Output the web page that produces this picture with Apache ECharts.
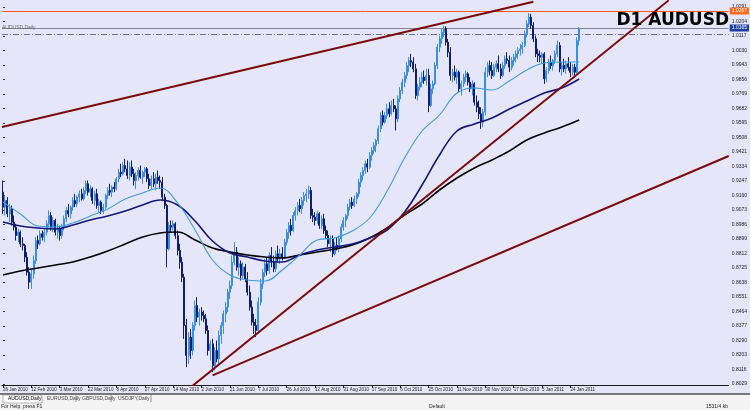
<!DOCTYPE html>
<html><head><meta charset="utf-8">
<script src="https://cdn.jsdelivr.net/npm/echarts@6/dist/echarts.min.js"></script>
<style>html,body{margin:0;padding:0;background:#e6e6fa;}#c{width:750px;height:410px;}</style>
</head><body><div id="c"></div>
<script>
// ---- data (AUDUSD daily bars) ----
const openP = [.9180,.9090,.9130,.9050,.9080,.9000,.8970,.8920,.8940,.8870,
.8860,.8790,.8700,.8640,.8690,.8770,.8890,.8870,.8930,.8910,
.8940,.8990,.9040,.8970,.9010,.8940,.8960,.8920,.8970,.9020,
.9070,.9050,.9090,.9130,.9110,.9150,.9170,.9140,.9190,.9230,
.9180,.9200,.9130,.9170,.9100,.9120,.9070,.9090,.9160,.9190,
.9180,.9210,.9200,.9260,.9300,.9290,.9340,.9320,.9280,.9330,
.9290,.9250,.9280,.9310,.9270,.9300,.9320,.9260,.9220,.9260,
.9230,.9270,.9250,.9240,.9150,.9100,.8840,.8980,.8970,.8990,
.8920,.8830,.8760,.8670,.8380,.8200,.8310,.8230,.8380,.8500,
.8430,.8460,.8440,.8420,.8350,.8230,.8270,.8140,.8230,.8180,
.8320,.8380,.8450,.8490,.8580,.8620,.8760,.8820,.8730,.8750,
.8680,.8730,.8660,.8580,.8490,.8400,.8380,.8350,.8520,.8630,
.8700,.8750,.8710,.8800,.8760,.8720,.8810,.8780,.8810,.8790,
.8880,.8940,.8980,.8950,.9040,.9070,.9100,.9080,.9130,.9160,
.9170,.9190,.9040,.9030,.9010,.9050,.8980,.9020,.8950,.8920,
.8870,.8900,.8810,.8860,.8840,.8900,.8970,.9010,.9040,.9090,
.9120,.9100,.9140,.9170,.9240,.9280,.9310,.9350,.9330,.9400,
.9430,.9460,.9490,.9560,.9640,.9600,.9640,.9680,.9650,.9700,
.9680,.9620,.9740,.9790,.9840,.9880,.9940,.9970,.9960,.9920,
.9760,.9810,.9840,.9870,.9850,.9880,.9700,.9800,.9830,.9940,
1.0050,1.0100,1.0140,1.0160,1.0080,1.0020,.9880,.9900,.9870,.9900,
.9800,.9830,.9870,.9890,.9840,.9800,.9830,.9720,.9690,.9650,
.9600,.9660,.9900,.9940,.9910,.9880,.9930,.9950,.9920,.9880,
.9940,.9980,.9970,.9930,.9970,.9990,1.0010,1.0030,1.0040,1.0060,
1.0130,1.0190,1.0230,1.0180,1.0100,1.0010,1.0000,.9990,1.0010,.9860,
.9910,.9960,.9940,.9970,1.0010,1.0060,.9920,.9940,.9920,.9950,
.9930,.9900,.9930,.9900,1.0090];
const highP = [.9250,.9160,.9150,.9110,.9100,.9040,.8990,.8960,.8950,.8910,
.8870,.8820,.8730,.8720,.8800,.8910,.8920,.8950,.8950,.8960,
.9010,.9070,.9060,.9030,.9020,.8990,.8980,.8990,.9040,.9090,
.9110,.9100,.9150,.9170,.9160,.9190,.9200,.9210,.9250,.9250,
.9220,.9210,.9190,.9200,.9140,.9130,.9110,.9170,.9210,.9230,
.9220,.9240,.9270,.9320,.9350,.9360,.9380,.9370,.9360,.9370,
.9320,.9300,.9330,.9340,.9310,.9330,.9330,.9290,.9280,.9300,
.9290,.9310,.9280,.9270,.9170,.9110,.9000,.9010,.9010,.9000,
.8950,.8870,.8790,.8690,.8420,.8340,.8360,.8400,.8530,.8550,
.8480,.8490,.8470,.8450,.8380,.8290,.8300,.8250,.8290,.8350,
.8400,.8470,.8520,.8600,.8650,.8800,.8880,.8850,.8790,.8770,
.8760,.8750,.8700,.8620,.8530,.8450,.8420,.8550,.8660,.8720,
.8780,.8790,.8820,.8850,.8800,.8830,.8860,.8840,.8850,.8900,
.8960,.9000,.9020,.9060,.9090,.9120,.9140,.9150,.9180,.9200,
.9220,.9210,.9080,.9060,.9070,.9060,.9040,.9050,.8980,.8950,
.8920,.8920,.8880,.8910,.8920,.8990,.9030,.9050,.9110,.9140,
.9150,.9160,.9180,.9260,.9300,.9330,.9370,.9380,.9420,.9450,
.9480,.9500,.9580,.9660,.9670,.9660,.9710,.9720,.9730,.9740,
.9700,.9760,.9810,.9860,.9900,.9960,.9990,1.0010,.9990,.9950,
.9830,.9870,.9900,.9910,.9920,.9920,.9830,.9850,.9960,1.0070,
1.0120,1.0160,1.0180,1.0175,1.0100,1.0050,.9920,.9940,.9920,.9910,
.9850,.9890,.9910,.9900,.9870,.9850,.9840,.9760,.9730,.9690,
.9680,.9930,.9960,.9970,.9960,.9950,.9970,1.0000,.9950,.9960,
1.0000,1.0020,1.0000,.9990,1.0010,1.0030,1.0050,1.0070,1.0080,1.0150,
1.0210,1.0255,1.0250,1.0200,1.0120,1.0040,1.0030,1.0020,1.0020,.9930,
.9980,1.0000,.9980,1.0030,1.0090,1.0080,.9960,.9980,.9970,.9990,
.9960,.9950,.9950,1.0110,1.0170];
const lowP = [.9050,.9040,.9030,.9000,.8980,.8950,.8890,.8880,.8850,.8830,
.8760,.8680,.8600,.8600,.8660,.8750,.8840,.8860,.8890,.8880,
.8920,.8970,.8950,.8940,.8920,.8900,.8890,.8900,.8950,.9000,
.9030,.9020,.9070,.9090,.9090,.9120,.9130,.9130,.9170,.9160,
.9150,.9110,.9100,.9080,.9060,.9050,.9050,.9080,.9140,.9160,
.9150,.9180,.9190,.9240,.9270,.9280,.9300,.9260,.9250,.9270,
.9220,.9200,.9250,.9260,.9230,.9270,.9240,.9200,.9200,.9210,
.9190,.9230,.9200,.9130,.9080,.8730,.8830,.8940,.8950,.8900,
.8800,.8720,.8640,.8300,.8130,.8150,.8180,.8200,.8350,.8400,
.8380,.8410,.8400,.8330,.8200,.8170,.8100,.8110,.8160,.8150,
.8270,.8330,.8400,.8460,.8540,.8600,.8740,.8710,.8680,.8650,
.8660,.8640,.8560,.8470,.8380,.8330,.8310,.8330,.8500,.8600,
.8670,.8680,.8690,.8730,.8700,.8700,.8760,.8750,.8770,.8780,
.8860,.8900,.8920,.8940,.9010,.9040,.9060,.9050,.9100,.9120,
.9140,.9020,.9000,.8980,.8990,.8960,.8960,.8930,.8900,.8850,
.8820,.8790,.8800,.8830,.8820,.8880,.8950,.8970,.9020,.9070,
.9080,.9090,.9110,.9150,.9210,.9250,.9290,.9300,.9320,.9370,
.9410,.9420,.9470,.9540,.9580,.9590,.9620,.9630,.9640,.9660,
.9550,.9600,.9720,.9770,.9810,.9860,.9900,.9930,.9900,.9740,
.9730,.9790,.9810,.9830,.9820,.9660,.9690,.9770,.9820,.9920,
1.0020,1.0070,1.0110,1.0060,.9990,.9850,.9840,.9850,.9830,.9780,
.9760,.9810,.9840,.9820,.9780,.9760,.9700,.9660,.9620,.9560,
.9570,.9640,.9870,.9880,.9860,.9870,.9900,.9900,.9860,.9870,
.9920,.9950,.9900,.9910,.9940,.9960,.9980,1.0000,1.0010,1.0050,
1.0110,1.0170,1.0160,1.0080,.9990,.9960,.9960,.9950,.9830,.9840,
.9890,.9920,.9910,.9950,.9990,.9900,.9880,.9900,.9890,.9910,
.9870,.9880,.9880,.9890,1.0060];
const closeP = [.9090,.9130,.9050,.9080,.9000,.8970,.8920,.8940,.8870,.8860,
.8790,.8700,.8640,.8690,.8770,.8890,.8870,.8930,.8910,.8940,
.8990,.9040,.8970,.9010,.8940,.8960,.8920,.8970,.9020,.9070,
.9050,.9090,.9130,.9110,.9150,.9170,.9140,.9190,.9230,.9180,
.9200,.9130,.9170,.9100,.9120,.9070,.9090,.9160,.9190,.9180,
.9210,.9200,.9260,.9300,.9290,.9340,.9320,.9280,.9330,.9290,
.9250,.9280,.9310,.9270,.9300,.9320,.9260,.9220,.9260,.9230,
.9270,.9250,.9240,.9150,.9100,.8840,.8980,.8970,.8990,.8920,
.8830,.8760,.8670,.8380,.8200,.8310,.8230,.8380,.8500,.8430,
.8460,.8440,.8420,.8350,.8230,.8270,.8140,.8230,.8180,.8320,
.8380,.8450,.8490,.8580,.8620,.8760,.8820,.8730,.8750,.8680,
.8730,.8660,.8580,.8490,.8400,.8380,.8350,.8520,.8630,.8700,
.8750,.8710,.8800,.8760,.8720,.8810,.8780,.8810,.8790,.8880,
.8940,.8980,.8950,.9040,.9070,.9100,.9080,.9130,.9160,.9170,
.9190,.9040,.9030,.9010,.9050,.8980,.9020,.8950,.8920,.8870,
.8900,.8810,.8860,.8840,.8900,.8970,.9010,.9040,.9090,.9120,
.9100,.9140,.9170,.9240,.9280,.9310,.9350,.9330,.9400,.9430,
.9460,.9490,.9560,.9640,.9600,.9640,.9680,.9650,.9700,.9680,
.9620,.9740,.9790,.9840,.9880,.9940,.9970,.9960,.9920,.9760,
.9810,.9840,.9870,.9850,.9880,.9700,.9800,.9830,.9940,1.0050,
1.0100,1.0140,1.0160,1.0080,1.0020,.9880,.9900,.9870,.9900,.9800,
.9830,.9870,.9890,.9840,.9800,.9830,.9720,.9690,.9650,.9600,
.9660,.9900,.9940,.9910,.9880,.9930,.9950,.9920,.9880,.9940,
.9980,.9970,.9930,.9970,.9990,1.0010,1.0030,1.0040,1.0060,1.0130,
1.0190,1.0230,1.0180,1.0100,1.0010,1.0000,.9990,1.0010,.9860,.9910,
.9960,.9940,.9970,1.0010,1.0060,.9920,.9940,.9920,.9950,.9930,
.9900,.9930,.9900,1.0090,1.0160];

// moving averages, read every 8 bars
const maIdx  = [0,8,16,24,32,40,48,56,64,72,80,88,96,104,112,120,128,136,144,152,160,168,176,184,192,200,208,216,224,232,240,248,256,264];
const maFast = [.9121,.9049,.8977,.8971,.8995,.9037,.9079,.9139,.9175,.9205,.9115,.8953,.8773,.8683,.8653,.8647,.8713,.8803,.8893,.8905,.8947,.9025,.9187,.9385,.9547,.9643,.9775,.9805,.9793,.9847,.9913,.9955,.9961,.9961];
const maMid  = [.9001,.8977,.8965,.8959,.8983,.9013,.9037,.9067,.9103,.9133,.9103,.9007,.8887,.8815,.8791,.8767,.8761,.8803,.8833,.8851,.8869,.8905,.8953,.9061,.9223,.9403,.9547,.9589,.9625,.9679,.9727,.9775,.9805,.9859];
const maSlow = [.8683,.8707,.8725,.8743,.8761,.8791,.8827,.8869,.8911,.8935,.8941,.8893,.8845,.8821,.8803,.8791,.8785,.8803,.8821,.8839,.8863,.8905,.8965,.9043,.9109,.9193,.9265,.9325,.9373,.9427,.9493,.9535,.9571,.9613];

// trend lines: [bar index, price] anchors
const trendUpper   = [[-0.5, .9571], [243, 1.0322]];
const trendSteep   = [[86, .8009], [305, 1.0331]];
const trendShallow = [[96, .8081], [332.5, .9397]];

// horizontal levels
const levelTop  = 1.0267;
const levelBid  = 1.0165;
const levelDash = 1.0129;

// axis tick labels
const priceTicks = [.8029,.8116,.8203,.8290,.8377,.8464,.8551,.8638,.8725,.8812,.8899,.8986,.9073,.9160,.9247,.9334,.9421,.9508,.9595,.9682,.9769,.9856,.9943,1.0030,1.0117,1.0204,1.0291];
const dateTicks = ["26 Jan 2010","12 Feb 2010","3 Mar 2010","22 Mar 2010","8 Apr 2010","27 Apr 2010","14 May 2010","2 Jun 2010","21 Jun 2010","7 Jul 2010","26 Jul 2010","12 Aug 2010","31 Aug 2010","17 Sep 2010","6 Oct 2010","25 Oct 2010","11 Nov 2010","30 Nov 2010","17 Dec 2010","5 Jan 2011","24 Jan 2011"];
const SLOTS = 333;      // bar slots across the chart (incl. empty shift area)
const LABEL_EVERY = 13; // bars between date labels

// ---- chart ----
const chart = echarts.init(document.getElementById('c'), null, {renderer: 'canvas'});
const candles = openP.map((o, i) => [o, closeP[i], lowP[i], highP[i]]);
const slots = Array.from({length: SLOTS}, (_, i) => String(i));
const showTick = (i) => i % LABEL_EVERY === 0 && i / LABEL_EVERY < dateTicks.length;
const maData = (arr) => arr.map((v, k) => [maIdx[k], v]);
const UP = '#3a8fe0', DOWN = '#151c6c', TL = '#7d0a0a';
const tiny = {fontFamily: 'Liberation Sans', fontSize: 4.5, color: '#222'};

chart.setOption({
  animation: false,
  backgroundColor: '#e6e6fa',
  grid: {left: 0, top: 0, width: 732, height: 385, containLabel: false},
  xAxis: [{
    type: 'category', data: slots, boundaryGap: true,
    axisLine: {lineStyle: {color: '#1a1a1a', width: 1}},
    axisTick: {show: true, interval: showTick, alignWithLabel: true, length: 3, lineStyle: {color: '#1a1a1a'}},
    axisLabel: Object.assign({interval: showTick, align: 'left', margin: 2,
      formatter: (v, i) => dateTicks[i / LABEL_EVERY] || ''}, tiny),
    splitLine: {show: false}
  }, {
    type: 'value', min: -0.5, max: SLOTS - 0.5, show: false
  }],
  yAxis: {
    type: 'value', min: .8023, max: 1.0333, position: 'right',
    splitLine: {show: false}, axisLine: {show: false},
    axisTick: {show: true, customValues: priceTicks, length: 2, lineStyle: {color: '#333'}},
    axisLabel: Object.assign({customValues: priceTicks, margin: 3, formatter: v => v.toFixed(4)}, tiny, {fontSize: 5})
  },
  graphic: [
    {type: 'rect', shape: {x: 0, y: 394, width: 750, height: 16}, style: {fill: '#f4f4f4'}, z: 50},
    {type: 'line', shape: {x1: 0, y1: 394, x2: 750, y2: 394}, style: {stroke: '#000', lineWidth: 1}, z: 51},
    {type: 'rect', shape: {x: 3, y: 395, width: 39, height: 8}, style: {fill: '#fff', stroke: '#888', lineWidth: 0.6}, z: 51},
    {type: 'text', x: 8, y: 396, style: {text: 'AUDUSD,Daily', font: '5px "Liberation Sans"', fill: '#000'}, z: 52},
    {type: 'text', x: 47, y: 396, style: {text: 'EURUSD,Daily', font: '5px "Liberation Sans"', fill: '#444'}, z: 52},
    {type: 'text', x: 82, y: 396, style: {text: 'GBPUSD,Daily', font: '5px "Liberation Sans"', fill: '#444'}, z: 52},
    {type: 'text', x: 118, y: 396, style: {text: 'USDJPY,Daily', font: '5px "Liberation Sans"', fill: '#444'}, z: 52},
    {type: 'line', shape: {x1: 76, y1: 395, x2: 76, y2: 402}, style: {stroke: '#555', lineWidth: 0.6}, z: 52},
    {type: 'line', shape: {x1: 111, y1: 395, x2: 111, y2: 402}, style: {stroke: '#555', lineWidth: 0.6}, z: 52},
    {type: 'line', shape: {x1: 151, y1: 395, x2: 151, y2: 402}, style: {stroke: '#555', lineWidth: 0.6}, z: 52},
    {type: 'text', x: 1, y: 404, style: {text: 'For Help, press F1', font: '5px "Liberation Sans"', fill: '#222'}, z: 52},
    {type: 'text', x: 429, y: 404, style: {text: 'Default', font: '5px "Liberation Sans"', fill: '#222'}, z: 52},
    {type: 'text', x: 706, y: 404, style: {text: '1531/4 kb', font: '5px "Liberation Sans"', fill: '#222'}, z: 52},
    {type: 'text', x: 2, y: 25, style: {text: 'AUDUSD,Daily', font: '5px "Liberation Sans"', fill: '#666'}, z: 20},
    {type: 'text', x: 729, y: 21, style: {text: 'D1 AUDUSD', font: 'bold 17px "DejaVu Sans"', fill: '#000', textAlign: 'right', textVerticalAlign: 'middle'}, z: 100}
  ],
  series: [
    {
      type: 'candlestick', xAxisIndex: 0, yAxisIndex: 0, data: candles,
      barWidth: 1.5, z: 3,
      itemStyle: {color: UP, color0: DOWN, borderColor: UP, borderColor0: DOWN, borderWidth: 1},
      markLine: {
        symbol: ['none', 'none'], silent: true, animation: false, z: 2, precision: 4,
        data: [
          {yAxis: levelTop, lineStyle: {color: '#ff5a1e', width: 1, type: 'solid'},
           label: {show: true, position: 'end', distance: 1, formatter: levelTop.toFixed(4), backgroundColor: '#ff6a1a', color: '#fff', fontSize: 5, padding: [1, 2], fontFamily: 'Liberation Sans'}},
          {yAxis: levelBid, lineStyle: {color: '#85859f', width: 1, type: 'solid'},
           label: {show: true, position: 'end', distance: 1, formatter: levelBid.toFixed(4), backgroundColor: '#1f3fa0', color: '#fff', fontSize: 5, padding: [1, 2], fontFamily: 'Liberation Sans'}},
          {yAxis: levelDash, lineStyle: {color: '#6f6f95', width: 1, type: [6, 2, 1, 2]}, label: {show: false}}
        ]
      }
    },
    {type: 'line', xAxisIndex: 1, data: maData(maSlow), smooth: 0.4, symbol: 'none', z: 5, lineStyle: {color: '#000', width: 1.6}},
    {type: 'line', xAxisIndex: 1, data: maData(maMid), smooth: 0.4, symbol: 'none', z: 5, lineStyle: {color: '#16167a', width: 1.6}},
    {type: 'line', xAxisIndex: 1, data: maData(maFast), smooth: 0.4, symbol: 'none', z: 5, lineStyle: {color: '#3d9be0', width: 1.1}},
    {type: 'line', xAxisIndex: 1, data: trendUpper, symbol: 'none', z: 6, lineStyle: {color: TL, width: 2}},
    {type: 'line', xAxisIndex: 1, data: trendSteep, symbol: 'none', z: 6, lineStyle: {color: TL, width: 2}},
    {type: 'line', xAxisIndex: 1, data: trendShallow, symbol: 'none', z: 6, lineStyle: {color: TL, width: 2}}
  ]
});
</script>
</body></html>
